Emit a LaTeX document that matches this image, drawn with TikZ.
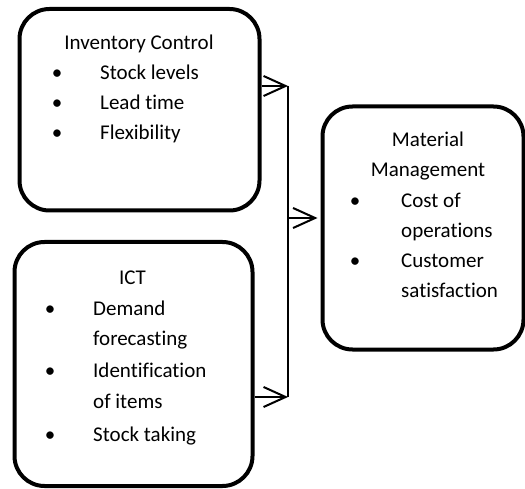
\documentclass[tikz,border=0pt]{standalone}
\usepackage{fontspec}
\setmainfont{Carlito}[Ligatures={NoCommon,NoContextual}]
\usetikzlibrary{calc,arrows.meta}

\tikzset{
	box/.style={draw, line width=4pt, rounded corners=30pt, inner sep=0pt},
	txt/.style={inner sep=0pt, font=\fontsize{21}{25}\selectfont},
	link/.style={line width=2pt, -{Straight Barb[length=22pt,width=20pt,line width=2pt]}}
}

\begin{document}
\begin{tikzpicture}[x=1pt,y=-1pt]
	\useasboundingbox (0,0) rectangle (525,489);

	\pgfmathsetmacro{\bus}{288}		%x of the joining line
	\pgfmathsetmacro{\gap}{3}		%space left before the right box

	%boxes
	\node[box, minimum width=240pt, minimum height=201.5pt] (inv) at (139.5,109.75) {};
	\node[box, minimum width=238pt, minimum height=244pt] (ict) at (133.5,364) {};
	\node[box, minimum width=201pt, minimum height=243pt] (mat) at (423,228) {};

	%inventory control
	\node[txt, anchor=base] (invtitle) at (139,50) {Inventory Control};
	\node[txt, anchor=base] (invb1) at (57,80) {\textbullet};
	\node[txt, anchor=base west] (invi1) at (100,80) {Stock levels};
	\node[txt, anchor=base] (invb2) at (57,110) {\textbullet};
	\node[txt, anchor=base west] (invi2) at (100,110) {Lead time};
	\node[txt, anchor=base] (invb3) at (57,140) {\textbullet};
	\node[txt, anchor=base west] (invi3) at (100,140) {Flexibility};

	%ict
	\node[txt, anchor=base] (icttitle) at (132.5,284) {ICT};
	\node[txt, anchor=base] (ictb1) at (50,316) {\textbullet};
	\node[txt, anchor=base west] (icti1) at (93,316) {Demand};
	\node[txt, anchor=base west] (icti1b) at (93,345) {forecasting};
	\node[txt, anchor=base] (ictb2) at (50,377) {\textbullet};
	\node[txt, anchor=base west] (icti2) at (93,377) {Identification};
	\node[txt, anchor=base west] (icti2b) at (93,408) {of items};
	\node[txt, anchor=base] (ictb3) at (50,441) {\textbullet};
	\node[txt, anchor=base west] (icti3) at (93,441) {Stock taking};

	%material management
	\node[txt, anchor=base] (mattitle) at (428,147) {Material};
	\node[txt, anchor=base] (mattitleb) at (428,177) {Management};
	\node[txt, anchor=base] (matb1) at (355,208) {\textbullet};
	\node[txt, anchor=base west] (mati1) at (401,208) {Cost of};
	\node[txt, anchor=base west] (mati1b) at (401,238) {operations};
	\node[txt, anchor=base] (matb2) at (355,268) {\textbullet};
	\node[txt, anchor=base west] (mati2) at (401,268) {Customer};
	\node[txt, anchor=base west] (mati2b) at (401,298) {satisfaction};

	%joins
	\coordinate (jtop) at (\bus,86);
	\coordinate (jmid) at (\bus,218);
	\coordinate (jbot) at (\bus,397);

	\draw[link] (inv.east |- jtop) -- (jtop);
	\draw[link] (ict.east |- jbot) -- (jbot);
	\draw[line width=2pt] (jtop) -- (jbot);
	\draw[link, shorten >=\gap pt] (jmid) -- (mat.west |- jmid);

\end{tikzpicture}
\end{document}
